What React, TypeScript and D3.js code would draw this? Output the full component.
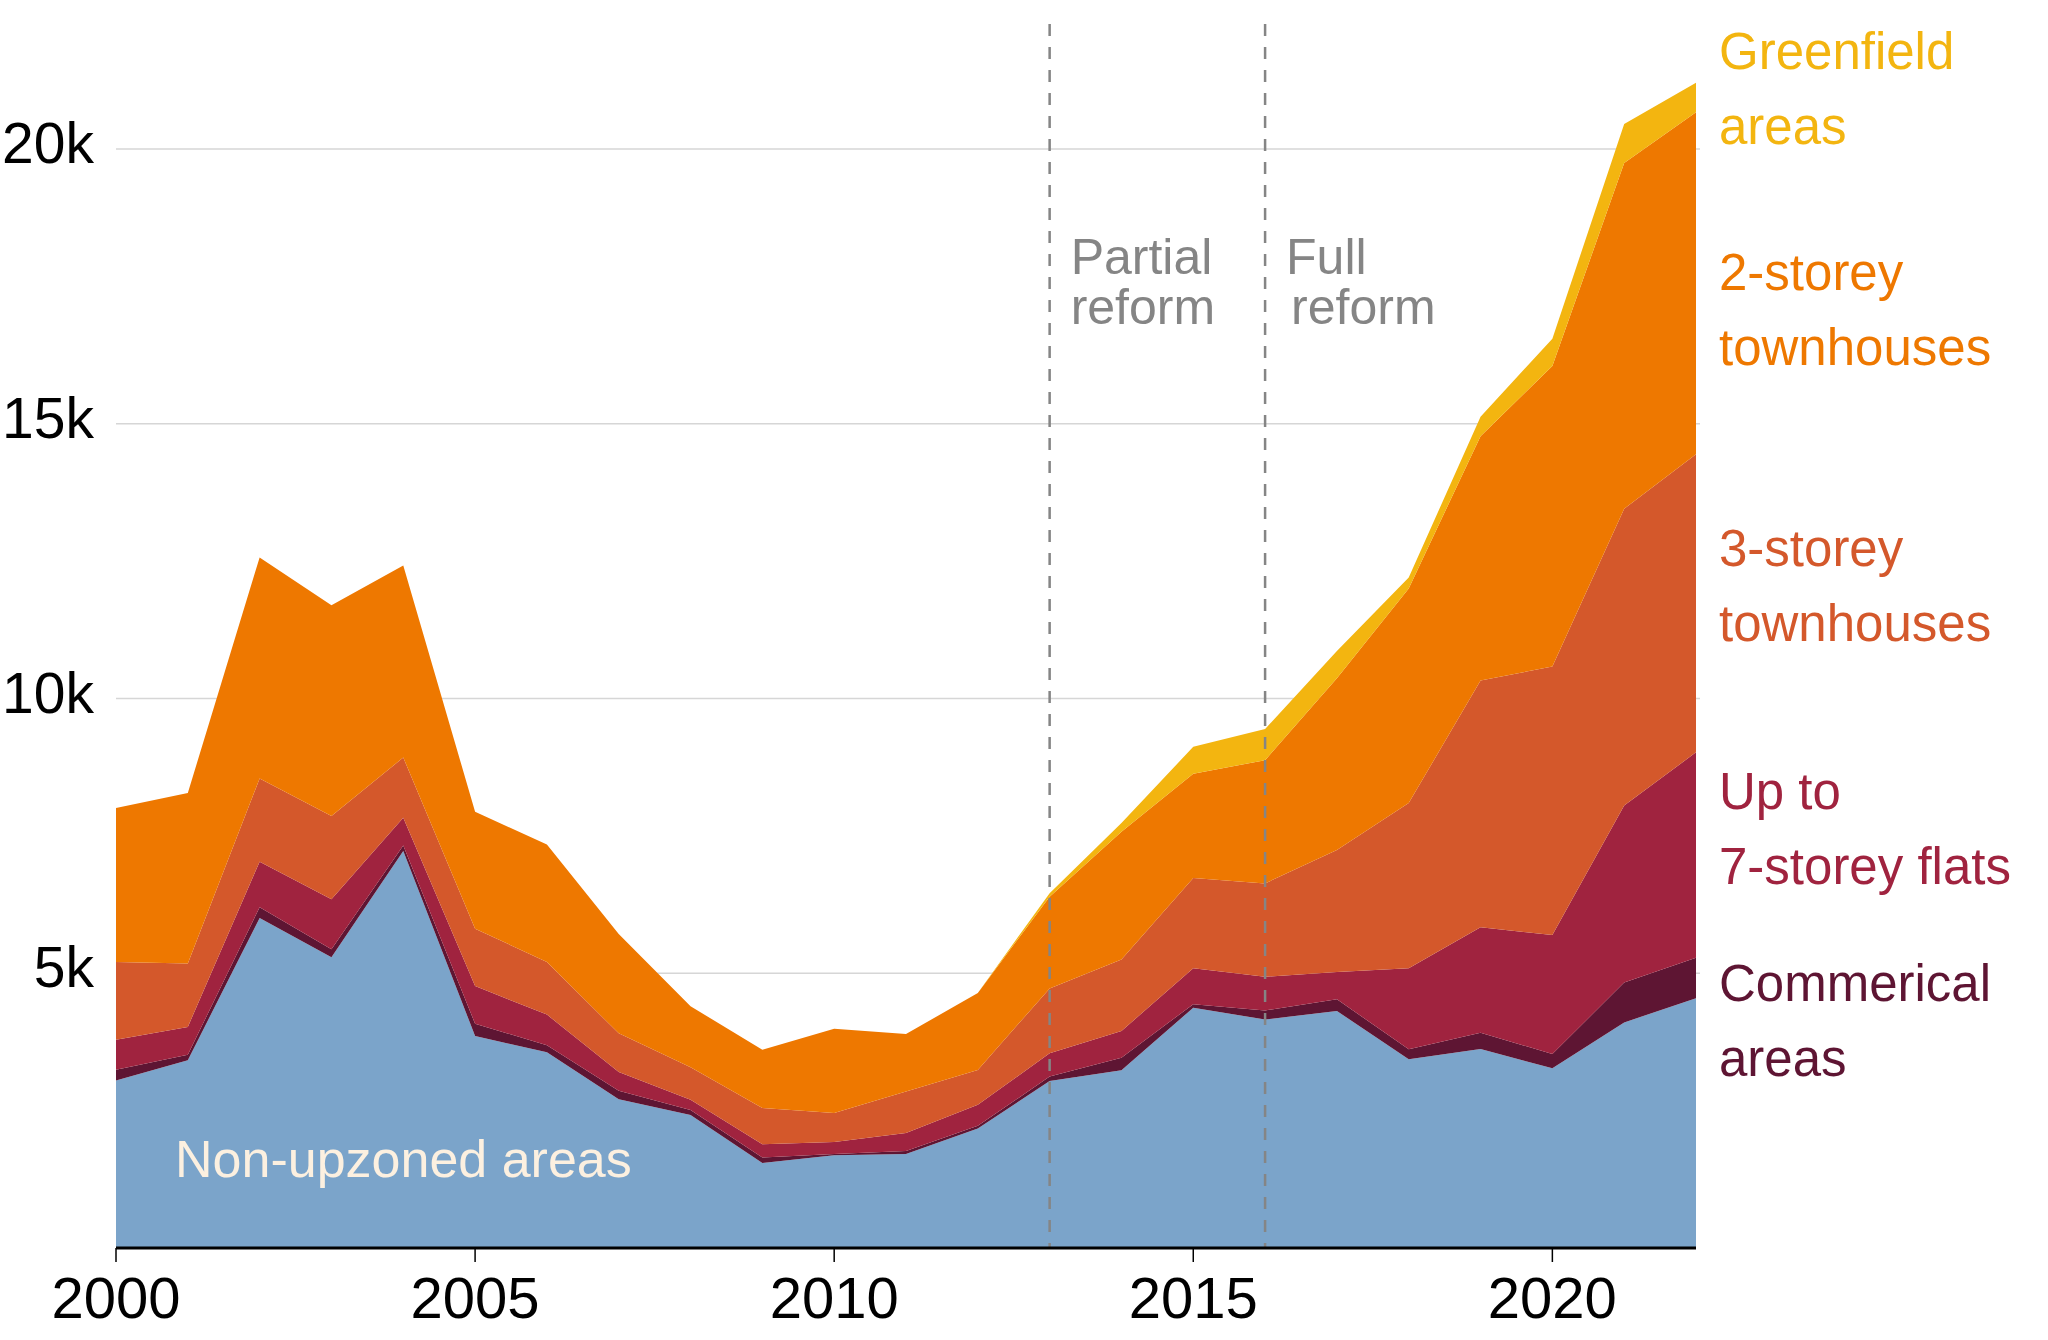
import * as d3 from "d3";

const years = d3.range(2000, 2023);

// dwellings consented per year, by zone type
const nonUpzoned = [3047, 3418, 6006, 5293, 7227, 3857, 3564, 2705, 2420, 1547, 1686, 1710, 2174, 3037, 3233, 4373, 4158, 4313, 3434, 3621, 3270, 4105, 4545];
const commercial = [195, 98, 195, 146, 97, 225, 127, 156, 90, 98, 24, 57, 49, 82, 228, 65, 166, 213, 182, 297, 260, 725, 739];
const flats = [547, 507, 830, 909, 508, 684, 557, 342, 190, 244, 220, 326, 383, 423, 489, 652, 611, 497, 1474, 1918, 2166, 3224, 3736];
const threeStorey = [1416, 1153, 1514, 1513, 1094, 1045, 957, 703, 590, 660, 529, 757, 635, 1181, 1302, 1644, 1700, 2221, 3007, 4491, 4886, 5398, 5426];
const twoStorey = [2803, 3105, 4023, 3838, 3496, 2128, 2139, 1807, 1110, 1058, 1531, 1043, 1401, 1669, 2321, 1898, 2242, 3125, 3906, 4446, 5469, 6292, 6222];
const greenfield = [0, 0, 0, 0, 0, 0, 0, 0, 0, 0, 0, 0, 0, 66, 163, 489, 568, 497, 199, 355, 497, 711, 539];

const keys = ["nonUpzoned", "commercial", "flats", "threeStorey", "twoStorey", "greenfield"];
const colors = ["#7BA4CA", "#5E1533", "#A0233F", "#D4582B", "#EE7800", "#F3B510"];

const yTicks = [5000, 10000, 15000, 20000];
const xTicks = [2000, 2005, 2010, 2015, 2020];

const reforms = [
  { year: 2013, lines: ["Partial", "reform"], indent: [0, 0] },
  { year: 2016, lines: ["Full", "reform"], indent: [0, 5] },
];

const labels = [
  { lines: ["Greenfield", "areas"], color: colors[5], y: 69 },
  { lines: ["2-storey", "townhouses"], color: colors[4], y: 290 },
  { lines: ["3-storey", "townhouses"], color: colors[3], y: 566 },
  { lines: ["Up to", "7-storey flats"], color: colors[2], y: 809 },
  { lines: ["Commerical", "areas"], color: colors[1], y: 1001 },
];

const W = 2048, H = 1340;
const FONT = "'Liberation Sans', Arial, Helvetica, sans-serif";

export default function App() {
  const table = years.map((yr, i) => ({
    year: yr,
    nonUpzoned: nonUpzoned[i],
    commercial: commercial[i],
    flats: flats[i],
    threeStorey: threeStorey[i],
    twoStorey: twoStorey[i],
    greenfield: greenfield[i],
  }));

  const x = d3.scaleLinear().domain([2000, 2022]).range([116, 1696]);
  const y = d3.scaleLinear().domain([0, 20000]).range([1248, 149]);

  const series = d3.stack<any>().keys(keys)(table);
  const area = d3.area<any>()
    .x(d => x(d.data.year))
    .y0(d => y(d[0]))
    .y1(d => y(d[1]));

  const [x0, x1] = x.range();

  return (
    <svg width={W} height={H} style={{ position: "absolute", left: 0, top: 0, background: "#fff" }} fontFamily={FONT}>
      {/* grid */}
      {yTicks.map(t => (
        <line key={t} x1={x0} x2={x1 + 4} y1={y(t)} y2={y(t)} stroke="#d6d6d6" strokeWidth={1.5} />
      ))}

      {/* stacked areas */}
      {series.map((s, i) => (
        <path key={s.key} d={area(s) ?? ""} fill={colors[i]} />
      ))}

      {/* reform markers */}
      {reforms.map(r => (
        <g key={r.year}>
          <line x1={x(r.year)} x2={x(r.year)} y1={24} y2={y(0)} stroke="#858585" strokeWidth={2.5} strokeDasharray="12,11" />
          {r.lines.map((l, j) => (
            <text key={l} x={x(r.year) + 21 + r.indent[j]} y={274 + j * 50} fontSize={50} fill="#858585">{l}</text>
          ))}
        </g>
      ))}

      {/* y axis labels */}
      {yTicks.map(t => (
        <text key={t} x={94} y={y(t) + 14} fontSize={57} textAnchor="end" fill="#000">{`${t / 1000}k`}</text>
      ))}

      {/* x axis */}
      <line x1={x0} x2={x1} y1={y(0)} y2={y(0)} stroke="#000" strokeWidth={2.8} />
      {xTicks.map(t => (
        <g key={t}>
          <line x1={x(t)} x2={x(t)} y1={y(0)} y2={y(0) + 14} stroke="#000" strokeWidth={1.5} />
          <text x={x(t)} y={1318} fontSize={58} textAnchor="middle" fill="#000">{t}</text>
        </g>
      ))}

      <text x={175} y={1177} fontSize={52} fill="#FCF0E0">Non-upzoned areas</text>

      {/* series labels */}
      {labels.map(lb => (
        <g key={lb.lines.join(" ")}>
          {lb.lines.map((l, j) => (
            <text key={l} x={1719} y={lb.y + j * 75} fontSize={51} fill={lb.color}>{l}</text>
          ))}
        </g>
      ))}
    </svg>
  );
}
